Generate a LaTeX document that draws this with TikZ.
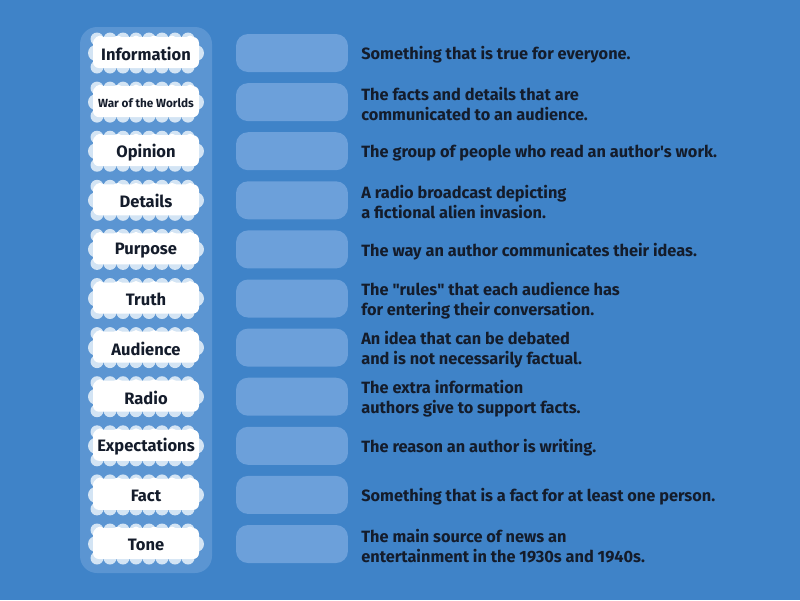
\documentclass[tikz,border=0pt]{standalone}
\usepackage{fontspec}
\setmainfont{Fira Sans}
\usetikzlibrary{positioning}
\definecolor{bg}{HTML}{3F83C8}
\definecolor{panel}{HTML}{5B95D2}
\definecolor{slotfill}{HTML}{6CA0DA}
\definecolor{ink}{HTML}{141C2B}
\definecolor{puff}{HTML}{D3E4F4}

\begin{document}
\begin{tikzpicture}[x=0.02cm, y=-0.02cm,
  term/.style={text=ink, font=\fontsize{9.4}{11}\selectfont\bfseries, inner sep=0pt},
  slotbox/.style={fill=slotfill, rounded corners=0.24cm, minimum width=2.24cm, minimum height=0.76cm, inner sep=0pt},
  deftext/.style={anchor=west, align=left, text=ink, inner sep=0pt, font=\fontsize{9.3}{11.3}\selectfont\bfseries}]
\fill[bg] (0,0) rectangle (800,600);
\fill[panel, rounded corners=0.34cm] (80,27) rectangle (212,573);
% left column: clouds, slots and the definitions
\foreach \lab [count=\i from 0] in {Information,{\fontsize{6.7}{8}\selectfont War of the Worlds},Opinion,Details,Purpose,Truth,Audience,Radio,Expectations,Fact,Tone}{
  \pgfmathsetmacro{\y}{53+49.1*\i}
  \foreach \bx in {97,110,...,197}{
    \fill[puff] (\bx,\y-14) circle[radius=6.5];
    \fill[puff] (\bx,\y+14) circle[radius=6.5];
  }
  \fill[puff] (96,\y) circle[radius=8];
  \fill[puff] (196,\y) circle[radius=8];
  \fill[white, rounded corners=0.12cm] (93,\y-16) rectangle (199,\y+15);
  \foreach \bx in {100,118,...,190}{
    \fill[white] (\bx,\y-12) circle[radius=5.5];
  }
  \node[term] (term\i) at (146,\y+1) {\lab};
  \node[slotbox] (slot\i) at (292,\y) {};
}
\foreach \txt [count=\i from 0] in {
  Something that is true for everyone.,
  The facts and details that are\\communicated to an audience.,
  The group of people who read an author\textquotesingle s work.,
  A radio broadcast depicting\\a fictional alien invasion.,
  The way an author communicates their ideas.,
  The \textquotedbl rules\textquotedbl{} that each audience has\\for entering their conversation.,
  An idea that can be debated\\and is not necessarily factual.,
  The extra information\\authors give to support facts.,
  The reason an author is writing.,
  Something that is a fact for at least one person.,
  The main source of news an\\entertainment in the 1930s and 1940s.}{
  \pgfmathsetmacro{\y}{53+49.1*\i}
  \node[deftext] (def\i) at (361,\y+2) {\txt};
}
\end{tikzpicture}
\end{document}
